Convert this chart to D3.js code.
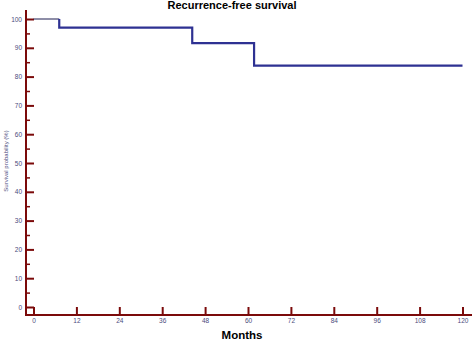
<!DOCTYPE html>
<html>
<head>
<meta charset="utf-8">
<script src="https://cdn.jsdelivr.net/npm/d3@7"></script>
<style>
body { margin: 0; background: #fff; }
svg { display: block; }
</style>
</head>
<body>
<div id="chart"></div>
<script>
// Kaplan-Meier style step data (months, survival %)
var months = [0, 7.2, 44.4, 61.7, 120];
var survival = [100, 97.0, 91.6, 83.8, 83.8];
var xTicks = [0, 12, 24, 36, 48, 60, 72, 84, 96, 108, 120];
var yTicks = [0, 10, 20, 30, 40, 50, 60, 70, 80, 90, 100];
var yMinor = [5, 15, 25, 35, 45, 55, 65, 75, 85, 95];

var width = 472, height = 341;
var axisColor = "#7b0a0a", labelColor = "#4b4b7d";

var svg = d3.select("#chart").append("svg")
    .attr("width", width)
    .attr("height", height);

var x = d3.scaleLinear().domain([0, 120]).range([33.5, 462.5]);
var y = d3.scaleLinear().domain([0, 100]).range([307, 19]);

var axisX = 26, axisY = 315;

// axis lines
svg.append("line")
    .attr("x1", axisX).attr("x2", axisX)
    .attr("y1", 10).attr("y2", axisY + 1)
    .attr("stroke", axisColor).attr("stroke-width", 2);
svg.append("line")
    .attr("x1", axisX - 1).attr("x2", width)
    .attr("y1", axisY).attr("y2", axisY)
    .attr("stroke", axisColor).attr("stroke-width", 2);

// y axis ticks pointing inwards
var gy = svg.append("g")
    .attr("transform", "translate(" + axisX + ",0)")
    .call(d3.axisLeft(y).tickValues(yTicks).tickSizeInner(-8).tickSizeOuter(0).tickPadding(4));
gy.select(".domain").remove();
gy.selectAll(".tick line").attr("stroke", axisColor).attr("stroke-width", 2);
gy.selectAll(".tick text")
    .attr("fill", labelColor)
    .style("font-family", "Liberation Sans, Arial, sans-serif")
    .style("font-size", "6.5px");

var gym = svg.append("g")
    .attr("transform", "translate(" + axisX + ",0)")
    .call(d3.axisLeft(y).tickValues(yMinor).tickSizeInner(-4).tickSizeOuter(0).tickFormat(""));
gym.select(".domain").remove();
gym.selectAll(".tick line").attr("stroke", axisColor).attr("stroke-width", 1.5);

// x axis ticks pointing up
var gx = svg.append("g")
    .attr("transform", "translate(0," + axisY + ")")
    .call(d3.axisBottom(x).tickValues(xTicks).tickSizeInner(-8).tickSizeOuter(0).tickPadding(3));
gx.select(".domain").remove();
gx.selectAll(".tick line").attr("stroke", axisColor).attr("stroke-width", 2);
gx.selectAll(".tick text")
    .attr("fill", labelColor)
    .style("font-family", "Liberation Sans, Arial, sans-serif")
    .style("font-size", "6.5px");

// survival curve: first interval thin, rest thick
var line = d3.line()
    .x(function(d) { return x(d[0]); })
    .y(function(d) { return y(d[1]); });

var first = [[months[0], survival[0]], [months[1], survival[0]]];
var rest = [];
for (var i = 1; i < months.length; i++) {
    rest.push([months[i], survival[i - 1]]);
    rest.push([months[i], survival[i]]);
}

svg.append("path")
    .attr("d", line(first))
    .attr("fill", "none")
    .attr("stroke", "#1c1c50")
    .attr("stroke-width", 1);

svg.append("path")
    .attr("d", line(rest))
    .attr("fill", "none")
    .attr("stroke", "#2e3192")
    .attr("stroke-width", 2.2);

// titles
svg.append("text")
    .attr("x", 232).attr("y", 9)
    .attr("text-anchor", "middle")
    .style("font-family", "Liberation Sans, Arial, sans-serif")
    .style("font-weight", "bold")
    .style("font-size", "11px")
    .text("Recurrence-free survival");

svg.append("text")
    .attr("x", 242).attr("y", 339)
    .attr("text-anchor", "middle")
    .style("font-family", "Liberation Sans, Arial, sans-serif")
    .style("font-weight", "bold")
    .style("font-size", "11.5px")
    .text("Months");

svg.append("text")
    .attr("transform", "translate(8,161)rotate(-90)")
    .attr("text-anchor", "middle")
    .attr("fill", labelColor)
    .style("font-family", "Liberation Sans, Arial, sans-serif")
    .style("font-size", "6px")
    .text("Survival probability (%)");
</script>
</body>
</html>
